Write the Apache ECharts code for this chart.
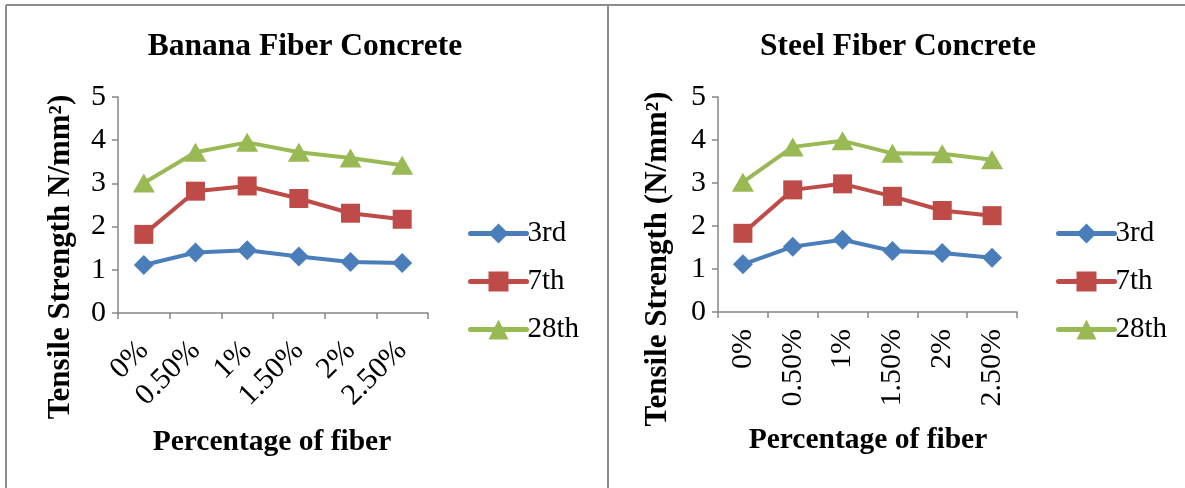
<!DOCTYPE html>
<html>
<head>
<meta charset="utf-8">
<script src="https://cdn.jsdelivr.net/npm/echarts@6/dist/echarts.min.js"></script>
<style>
  html, body { margin: 0; padding: 0; background: #fff; }
  #chart { width: 1185px; height: 488px; }
</style>
</head>
<body>
<div id="chart"></div>
<script>
// Fiber content categories (shared by both panels)
const fiberContent = ['0%', '0.50%', '1%', '1.50%', '2%', '2.50%'];
const curingAges = ['3rd', '7th', '28th'];
const yTicks = [0, 1, 2, 3, 4, 5];

// Banana fiber concrete – tensile strength (N/mm²)
const banana3rd  = [1.11, 1.40, 1.45, 1.31, 1.18, 1.16];
const banana7th  = [1.82, 2.82, 2.94, 2.65, 2.31, 2.17];
const banana28th = [3.01, 3.72, 3.95, 3.72, 3.59, 3.42];

// Steel fiber concrete – tensile strength (N/mm²)
const steel3rd  = [1.11, 1.52, 1.68, 1.42, 1.37, 1.26];
const steel7th  = [1.83, 2.84, 2.98, 2.69, 2.36, 2.24];
const steel28th = [3.02, 3.84, 3.98, 3.69, 3.68, 3.54];

const FONT = '"Liberation Serif", "Times New Roman", serif';
const AXIS_GRAY = '#868686';
const FRAME_GRAY = '#8c8c8c';
const colors = { '3rd': '#4a7ebb', '7th': '#be4b48', '28th': '#98b954' };
const symbols = { '3rd': ['diamond', [20, 20]], '7th': ['rect', [19, 19]], '28th': ['triangle', [22, 19]] };

function lineSeries(name, data, idx) {
  return {
    name: name,
    type: 'line',
    xAxisIndex: idx,
    yAxisIndex: idx,
    data: data,
    symbol: symbols[name][0],
    symbolSize: symbols[name][1],
    showAllSymbol: true,
    lineStyle: { color: colors[name], width: 4 },
    itemStyle: { color: colors[name] },
    emphasis: { disabled: true },
    z: 3
  };
}

function xAxis(gridIndex, rotate) {
  return {
    type: 'category',
    gridIndex: gridIndex,
    data: fiberContent,
    boundaryGap: true,
    axisLine: { show: true, lineStyle: { color: AXIS_GRAY, width: 1.5 } },
    axisTick: { show: true, interval: 0, alignWithLabel: false, length: 6, lineStyle: { color: AXIS_GRAY, width: 1.5 } },
    axisLabel: {
      interval: 0, rotate: rotate, margin: rotate === 90 ? 17 : 33,
      fontFamily: FONT, fontSize: 30, color: '#000'
    },
    splitLine: { show: false }
  };
}

function yAxis(gridIndex) {
  return {
    type: 'value',
    gridIndex: gridIndex,
    min: yTicks[0],
    max: yTicks[yTicks.length - 1],
    interval: 1,
    axisLine: { show: true, lineStyle: { color: AXIS_GRAY, width: 1.5 } },
    axisTick: { show: true, length: 6, lineStyle: { color: AXIS_GRAY, width: 1.5 } },
    axisLabel: { margin: 12, fontFamily: FONT, fontSize: 30, color: '#000' },
    splitLine: { show: false }
  };
}

function legend(left) {
  return {
    data: curingAges,
    orient: 'vertical',
    left: left,
    top: 214,
    itemWidth: 56,
    itemHeight: 25,
    itemGap: 19,
    selectedMode: false,
    lineStyle: { width: 5, cap: 'round' },
    textStyle: { fontFamily: FONT, fontSize: 29, color: '#000', padding: [0, 0, 0, -4] }
  };
}

function vTitle(text, x, y) {
  return {
    type: 'text',
    x: x, y: y,
    rotation: Math.PI / 2,
    style: {
      text: text,
      font: 'bold 31px ' + FONT,
      fill: '#000',
      align: 'center',
      verticalAlign: 'middle'
    }
  };
}

function hTitle(text, x, y, size) {
  return {
    type: 'text',
    x: x, y: y,
    style: {
      text: text,
      font: 'bold ' + size + 'px ' + FONT,
      fill: '#000',
      align: 'center',
      verticalAlign: 'middle'
    }
  };
}

const chart = echarts.init(document.getElementById('chart'), null, { renderer: 'canvas' });

chart.setOption({
  backgroundColor: '#fff',
  animation: false,
  grid: [
    { left: 118, top: 97, width: 310, height: 216 },
    { left: 718, top: 97, width: 299, height: 215 }
  ],
  xAxis: [xAxis(0, 45), xAxis(1, 90)],
  yAxis: [yAxis(0), yAxis(1)],
  legend: [legend(463), legend(1051)],
  series: [
    lineSeries('3rd', banana3rd, 0),
    lineSeries('7th', banana7th, 0),
    lineSeries('28th', banana28th, 0),
    lineSeries('3rd', steel3rd, 1),
    lineSeries('7th', steel7th, 1),
    lineSeries('28th', steel28th, 1)
  ],
  graphic: [
    // panel frame
    { type: 'line', shape: { x1: 6, y1: 5, x2: 1185, y2: 5 }, style: { stroke: FRAME_GRAY, lineWidth: 2 } },
    { type: 'line', shape: { x1: 6, y1: 5, x2: 6, y2: 488 }, style: { stroke: FRAME_GRAY, lineWidth: 2 } },
    { type: 'line', shape: { x1: 608, y1: 5, x2: 608, y2: 488 }, style: { stroke: FRAME_GRAY, lineWidth: 2 } },
    // chart titles
    hTitle('Banana Fiber Concrete', 305, 47, 31.5),
    hTitle('Steel Fiber Concrete', 898, 47, 31.5),
    // axis titles
    hTitle('Percentage of fiber', 272, 442, 29.5),
    hTitle('Percentage of fiber', 868, 440, 29.5),
    vTitle('Tensile Strength N/mm²)', 61, 257),
    vTitle('Tensile Strength (N/mm²)', 658, 259)
  ]
});
</script>
</body>
</html>
